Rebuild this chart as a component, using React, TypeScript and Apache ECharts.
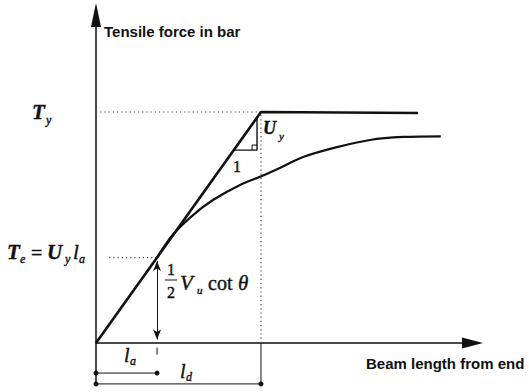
import { useEffect, useRef } from "react";
import * as echarts from "echarts";

// Normalised units: development length ld = 1, yield force Ty = 1, so Uy = 1.
const anchorLa = 0.37;
const devLd = 1.0;
const yieldTy = 1.0;
const forceTe = 0.37;

// Idealised bilinear force build-up: linear to Ty at ld, then flat.
const bilinearX = [0, devLd, 1.952];
const bilinearY = [0, yieldTy, 0.996];

// Actual force development, tangent to the line at Te.
const curveX = [0.37, 0.467, 0.588, 0.709, 0.873, 1.006, 1.115, 1.255, 1.461, 1.661, 1.861, 2.09];
const curveY = [0.37, 0.47, 0.554, 0.619, 0.684, 0.723, 0.758, 0.805, 0.848, 0.879, 0.892, 0.895];

// Slope triangle (run 1 : rise Uy) on the bilinear line.
const triX = [0.835, 0.976, 0.976];
const triY = [0.835, 0.835, 0.976];
const squareX = [0.946, 0.946, 0.976];
const squareY = [0.835, 0.857, 0.857];

// Dimension lines beneath the axis.
const dimLaY = -0.13;
const dimLdY = -0.177;

const serif = "Liberation Serif";
const sans = "Liberation Sans";

type Txt = { t: string; x: number; y: number; size: number; italic?: boolean; family?: string; bold?: boolean; align?: string };

const labels: Txt[] = [
  { t: "Tensile force in bar", x: 104, y: 31, size: 15, family: sans, bold: true },
  { t: "Beam length from end", x: 366, y: 363, size: 15, family: sans, bold: true },
  // Ty
  { t: "T", x: 32, y: 112, size: 21, italic: true, bold: true },
  { t: "y", x: 46, y: 120, size: 12, italic: true },
  // Te = Uy la
  { t: "T", x: 7, y: 252, size: 21, italic: true, bold: true },
  { t: "e", x: 20, y: 259, size: 12, italic: true },
  { t: "=", x: 31, y: 253, size: 20 },
  { t: "U", x: 47, y: 252, size: 21, italic: true, bold: true },
  { t: "y", x: 65, y: 259, size: 12, italic: true },
  { t: "l", x: 73, y: 252, size: 21, italic: true },
  { t: "a", x: 79, y: 259, size: 12, italic: true },
  // slope triangle
  { t: "U", x: 263, y: 128, size: 18, italic: true, bold: true },
  { t: "y", x: 279, y: 136, size: 11, italic: true },
  { t: "1", x: 237, y: 166, size: 16, align: "center" },
  // 1/2 Vu cot θ
  { t: "1", x: 171, y: 269, size: 16, align: "center" },
  { t: "2", x: 171, y: 292, size: 16, align: "center" },
  { t: "V", x: 180, y: 283, size: 21, italic: true },
  { t: "u", x: 197, y: 290, size: 11, italic: true },
  { t: "cot", x: 208, y: 283, size: 20 },
  { t: "θ", x: 238, y: 283, size: 21, italic: true },
  // la, ld
  { t: "l", x: 124, y: 355, size: 20, italic: true },
  { t: "a", x: 130, y: 361, size: 12, italic: true },
  { t: "l", x: 180, y: 371, size: 20, italic: true },
  { t: "d", x: 186, y: 377, size: 12, italic: true },
];

const pairs = (xs: number[], ys: number[]) => xs.map((x, i) => [x, ys[i]]);

export default function App() {
  const ref = useRef<HTMLDivElement>(null);

  useEffect(() => {
    document.body.style.margin = "0";
    const chart = echarts.init(ref.current!, undefined, { renderer: "svg" });

    const thin = { color: "#111", width: 1 };
    const dotted = { color: "#444", width: 1.2, type: [1.2, 3] as any };

    chart.setOption({
      animation: false,
      backgroundColor: "#fff",
      grid: { left: 96, right: 56.5, top: 15, bottom: 7.4 },
      xAxis: {
        type: "value",
        min: 0,
        max: 2.282,
        axisLine: {
          onZero: true,
          symbol: ["none", "triangle"],
          symbolSize: [11, 21],
          lineStyle: { color: "#111", width: 1.5 },
        },
        axisTick: { show: false },
        axisLabel: { show: false },
        splitLine: { show: false },
      },
      yAxis: {
        type: "value",
        min: -0.18,
        max: 1.42,
        axisLine: {
          onZero: false,
          symbol: ["none", "triangle"],
          symbolSize: [10, 24],
          lineStyle: { color: "#111", width: 1.5 },
        },
        axisTick: { show: false },
        axisLabel: { show: false },
        splitLine: { show: false },
      },
      series: [
        {
          name: "Ty level",
          type: "line",
          data: [[0, yieldTy], [devLd, yieldTy]],
          symbol: "none",
          lineStyle: dotted,
        },
        {
          name: "Te level",
          type: "line",
          data: [[0.08, forceTe], [anchorLa, forceTe]],
          symbol: "none",
          lineStyle: dotted,
        },
        {
          name: "ld section",
          type: "line",
          data: [[devLd, 0], [devLd, yieldTy]],
          symbol: "none",
          lineStyle: dotted,
        },
        {
          name: "bilinear",
          type: "line",
          data: pairs(bilinearX, bilinearY),
          symbol: "none",
          lineStyle: { color: "#111", width: 2.6 },
        },
        {
          name: "actual",
          type: "line",
          smooth: 0.35,
          data: pairs(curveX, curveY),
          symbol: "none",
          lineStyle: { color: "#111", width: 2.2 },
        },
        {
          name: "slope triangle",
          type: "line",
          data: pairs(triX, triY),
          symbol: "none",
          lineStyle: { color: "#111", width: 1.4 },
        },
        {
          name: "right angle",
          type: "line",
          data: pairs(squareX, squareY),
          symbol: "none",
          lineStyle: thin,
        },
        {
          name: "shear force arrow",
          type: "line",
          data: [],
          markLine: {
            silent: true,
            symbol: ["arrow", "arrow"],
            symbolSize: [6, 10],
            label: { show: false },
            lineStyle: { color: "#111", width: 1, type: "solid" },
            data: [[{ coord: [anchorLa, 0.015] }, { coord: [anchorLa, forceTe - 0.015] }]],
          },
        },
        {
          name: "la tick",
          type: "line",
          data: [[anchorLa, -0.02], [anchorLa, -0.05]],
          symbol: "none",
          lineStyle: thin,
        },
        {
          name: "ld extension",
          type: "line",
          data: [[devLd, 0], [devLd, dimLdY]],
          symbol: "none",
          lineStyle: thin,
        },
        {
          name: "la dimension",
          type: "line",
          data: [[0, dimLaY], [anchorLa, dimLaY]],
          symbol: "circle",
          symbolSize: 5,
          itemStyle: { color: "#111" },
          lineStyle: thin,
        },
        {
          name: "ld dimension",
          type: "line",
          data: [[0, dimLdY], [devLd, dimLdY]],
          symbol: "circle",
          symbolSize: 5,
          itemStyle: { color: "#111" },
          lineStyle: thin,
        },
      ],
      graphic: [
        ...labels.map((l) => ({
          type: "text",
          x: l.x,
          y: l.y,
          silent: true,
          style: {
            text: l.t,
            fontFamily: l.family ?? serif,
            fontSize: l.size,
            fontStyle: l.italic ? "italic" : "normal",
            fontWeight: l.bold ? "bold" : "normal",
            fill: "#111",
            stroke: "#111",
            lineWidth: l.family === sans ? 0 : 0.4,
            align: l.align ?? "left",
            verticalAlign: "middle",
          },
        })),
        {
          type: "line",
          silent: true,
          shape: { x1: 165, y1: 280, x2: 177, y2: 280 },
          style: { stroke: "#111", lineWidth: 1 },
        },
      ],
    });

    return () => chart.dispose();
  }, []);

  return <div ref={ref} style={{ width: 529, height: 392 }} />;
}
